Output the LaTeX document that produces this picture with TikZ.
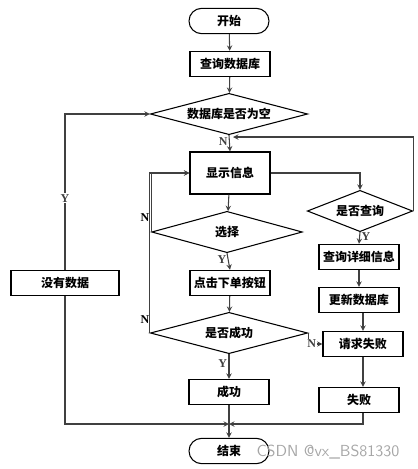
\documentclass[tikz,border=0pt]{standalone}
\usepackage{fontspec}
\setmainfont{Liberation Serif}
\newfontfamily\cjk{Noto Sans CJK SC}
\usepackage{tikz}
\usetikzlibrary{arrows,shapes.geometric,positioning}

\begin{document}
\begin{tikzpicture}[
  x=0.75pt, y=-0.75pt,
  box/.style={rectangle, draw, thick, align=center,
              minimum width=60pt, minimum height=19pt,
              font=\cjk\bfseries\small, inner sep=1pt},
  term/.style={box, rounded corners=9.5pt},
  dec/.style={diamond, draw, thick, aspect=4, inner sep=0pt,
              minimum width=118pt, minimum height=31pt,
              font=\cjk\bfseries\small},
  arrow/.style={->, >=stealth, thick, black!75},
  line/.style={thick, black!75},
  yn/.style={font=\bfseries\small, inner sep=1pt}
]
\useasboundingbox (0,0) rectangle (418,469);

% main column
\node[term] (start) at (229,21) {开始};
\node[box] (query) at (230,64) {查询数据库};
\node[dec] (empty) at (229,114) {数据库是否为空};
\node[box, minimum height=31.5pt] (show) at (230,173) {显示信息};
\node[dec, minimum width=113pt] (choose) at (227,232) {选择};
\node[box] (click) at (230,283) {点击下单按钮};
\node[dec] (ok) at (229,333) {是否成功};
\node[box] (succ) at (229,392) {成功};
\node[term] (stop) at (229,451) {结束};

% right column
\node[dec, minimum width=79pt] (ask) at (360,211) {是否查询};
\node[box] (detail) at (359,257) {查询详细信息};
\node[box] (update) at (359,300) {更新数据库};
\node[box] (reqfail) at (363,344) {请求失败};
\node[box] (fail) at (359,400) {失败};

% left column
\node[box, minimum width=81pt] (nodata) at (65,283) {没有数据};

\coordinate (back) at (233,137);
\coordinate (join) at (229,424);

\draw[arrow] (start) -- (query);
\draw[arrow] (query) -- (empty);
\draw[arrow] (empty.south) -- node[yn, left, pos=0.4] {N} (show.north);
\draw[arrow] (show) -- (choose);
\draw[arrow] (choose.south) -- node[yn, left, pos=0.4] {Y} (click.north);
\draw[arrow] (click) -- (ok);
\draw[arrow] (ok.south) -- node[yn, left, pos=0.4] {Y} (succ.north);
\draw[arrow] (succ) -- (stop);

\draw[arrow] (show.east) -| (ask.north);
\draw[arrow] (ask.east) |- (back);
\draw[arrow] (ask.south) -- node[yn, right, pos=0.35] {Y} (detail.north);
\draw[arrow] (detail) -- (update);
\draw[arrow] (reqfail.north |- update.south) -- (reqfail.north);
\draw[arrow] (reqfail.south) -- (reqfail.south |- fail.north);
\draw[arrow] (reqfail.south |- fail.south) |- (join);

\draw[arrow] (choose.west) |- (show.west);
\draw[arrow] (ok.west) |- (show.west);
\node[yn] at (145,218) {N};
\node[yn] at (145,320) {N};
\draw[arrow] (ok.east) |- node[yn, pos=0.62, fill=white] {N} (reqfail.west);

\draw[arrow] (nodata.north) |- node[yn, pos=0.23, fill=white] {Y} (empty.west);
\draw[arrow] (nodata.south) |- (join);

\node[font=\sffamily, text=black!35, scale=1.2] (mark) at (328,452) {CSDN @vx\_BS81330};
\end{tikzpicture}
\end{document}
